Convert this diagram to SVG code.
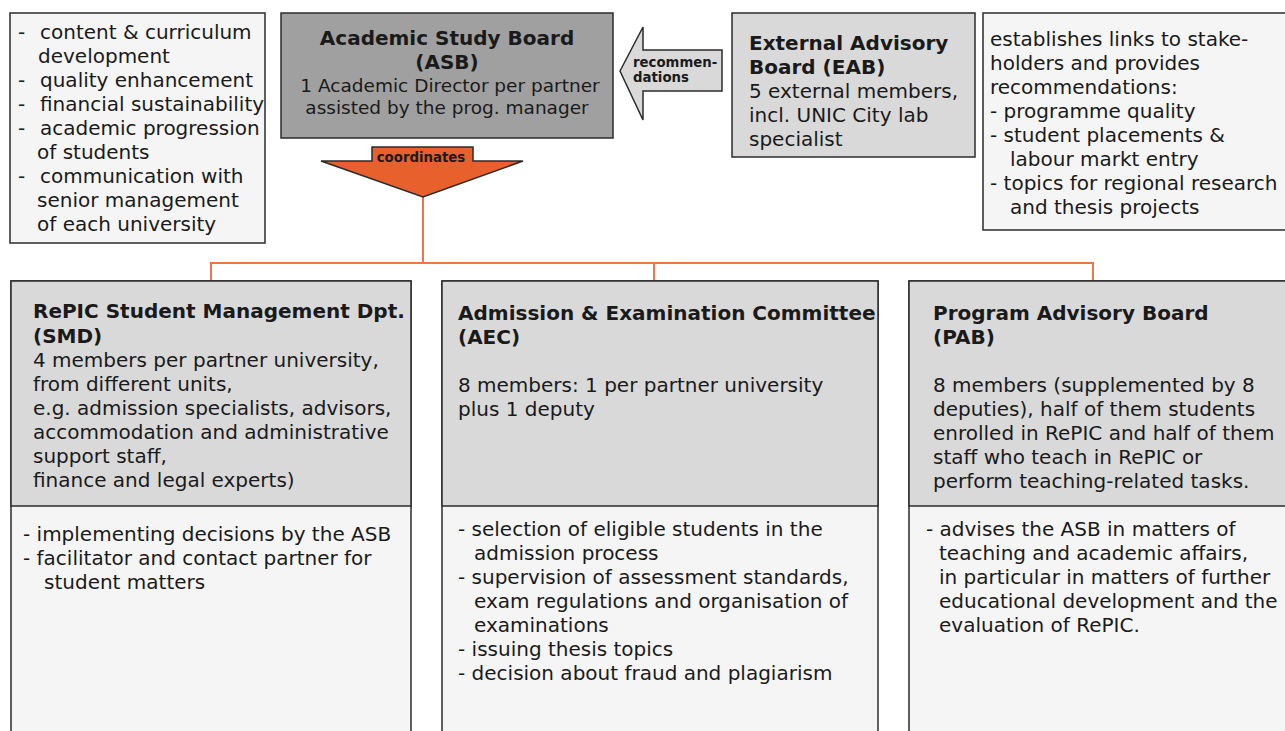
<svg xmlns="http://www.w3.org/2000/svg" width="1285" height="731" viewBox="0 0 1285 731">
<style>
text{font-family:"DejaVu Sans","Liberation Sans",sans-serif;font-size:20px;fill:#1a1a1a}
.b{font-weight:bold}
.s{font-size:18.5px}
.box{stroke:#2b2b2b;stroke-width:1.5}
.light{fill:#f5f5f5}
.mid{fill:#d9d9d9}
.dark{fill:#a0a0a0}
.con{fill:none;stroke:#ee7547;stroke-width:2}
.small{font-size:13.3px;font-weight:bold}
</style>
<rect width="1285" height="731" fill="#ffffff"/>
<g id="connectors">
<polyline class="con" points="423,197 423,263"/>
<polyline class="con" points="211,281 211,263 1093,263 1093,281"/>
<polyline class="con" points="654,263 654,281"/>
</g>
<g id="tasks-asb">
<rect class="box light" x="10" y="13" width="255" height="230"/>
<text x="18" y="39">-</text><text x="40" y="39">content &amp; curriculum</text>
<text x="38" y="63">development</text>
<text x="18" y="87">-</text><text x="40" y="87">quality enhancement</text>
<text x="18" y="111">-</text><text x="40" y="111">financial sustainability</text>
<text x="18" y="135">-</text><text x="40" y="135">academic progression</text>
<text x="37" y="159">of students</text>
<text x="18" y="183">-</text><text x="40" y="183">communication with</text>
<text x="37" y="207">senior management</text>
<text x="37" y="231">of each university</text>
</g>
<g id="asb">
<rect class="box dark" x="281" y="13" width="332" height="125"/>
<text class="b" x="447" y="45" text-anchor="middle">Academic Study Board</text>
<text class="b" x="447" y="69" text-anchor="middle">(ASB)</text>
<text class="s" x="450" y="92" text-anchor="middle">1 Academic Director per partner</text>
<text class="s" x="447" y="114" text-anchor="middle">assisted by the prog. manager</text>
</g>
<g id="coordinates">
<polygon points="372,161 372,147 473,147 473,161 523,161 423,197 321,161" fill="#e8602c" stroke="#2b2b2b" stroke-width="1.5"/>
<text class="small" x="421" y="162" text-anchor="middle">coordinates</text>
</g>
<g id="recommendations">
<polygon points="620,71 643,27 643,50 722,50 722,91 643,91 643,120" fill="#d9d9d9" stroke="#2b2b2b" stroke-width="1.5"/>
<text class="small" x="633" y="67">recommen-</text>
<text class="small" x="633" y="82">dations</text>
</g>
<g id="eab">
<rect class="box mid" x="732" y="13" width="243" height="144"/>
<text class="b" x="749" y="50">External Advisory</text>
<text class="b" x="749" y="74">Board (EAB)</text>
<text x="749" y="98">5 external members,</text>
<text x="749" y="122">incl. UNIC City lab</text>
<text x="749" y="146">specialist</text>
</g>
<g id="tasks-eab">
<rect class="box light" x="983" y="13" width="310" height="217"/>
<text x="990" y="46">establishes links to stake-</text>
<text x="990" y="70">holders and provides</text>
<text x="990" y="94">recommendations:</text>
<text x="990" y="118">- programme quality</text>
<text x="990" y="142">- student placements &amp;</text>
<text x="1010" y="166">labour markt entry</text>
<text x="990" y="190">- topics for regional research</text>
<text x="1010" y="214">and thesis projects</text>
</g>
<g id="smd">
<rect class="box light" x="11" y="281" width="400" height="470"/>
<rect class="box mid" x="11" y="281" width="400" height="225"/>
<text class="b" x="33" y="318">RePIC Student Management Dpt.</text>
<text class="b" x="33" y="343">(SMD)</text>
<text x="33" y="367">4 members per partner university,</text>
<text x="33" y="391">from different units,</text>
<text x="33" y="415">e.g. admission specialists, advisors,</text>
<text x="33" y="439">accommodation and administrative</text>
<text x="33" y="463">support staff,</text>
<text x="33" y="487">finance and legal experts)</text>
<text x="23" y="541">- implementing decisions by the ASB</text>
<text x="23" y="565">- facilitator and contact partner for</text>
<text x="44" y="589">student matters</text>
</g>
<g id="aec">
<rect class="box light" x="442" y="281" width="436" height="470"/>
<rect class="box mid" x="442" y="281" width="436" height="225"/>
<text class="b" x="458" y="320">Admission &amp; Examination Committee</text>
<text class="b" x="458" y="344">(AEC)</text>
<text x="458" y="392">8 members: 1 per partner university</text>
<text x="458" y="416">plus 1 deputy</text>
<text x="458" y="536">- selection of eligible students in the</text>
<text x="474" y="560">admission process</text>
<text x="458" y="584">- supervision of assessment standards,</text>
<text x="474" y="608">exam regulations and organisation of</text>
<text x="474" y="632">examinations</text>
<text x="458" y="656">- issuing thesis topics</text>
<text x="458" y="680">- decision about fraud and plagiarism</text>
</g>
<g id="pab">
<rect class="box light" x="909" y="281" width="390" height="470"/>
<rect class="box mid" x="909" y="281" width="390" height="225"/>
<text class="b" x="933" y="320">Program Advisory Board</text>
<text class="b" x="933" y="344">(PAB)</text>
<text x="933" y="392">8 members (supplemented by 8</text>
<text x="933" y="416">deputies), half of them students</text>
<text x="933" y="440">enrolled in RePIC and half of them</text>
<text x="933" y="464">staff who teach in RePIC or</text>
<text x="933" y="488">perform teaching-related tasks.</text>
<text x="926" y="536">- advises the ASB in matters of</text>
<text x="939" y="560">teaching and academic affairs,</text>
<text x="939" y="584">in particular in matters of further</text>
<text x="939" y="608">educational development and the</text>
<text x="939" y="632">evaluation of RePIC.</text>
</g>
</svg>
